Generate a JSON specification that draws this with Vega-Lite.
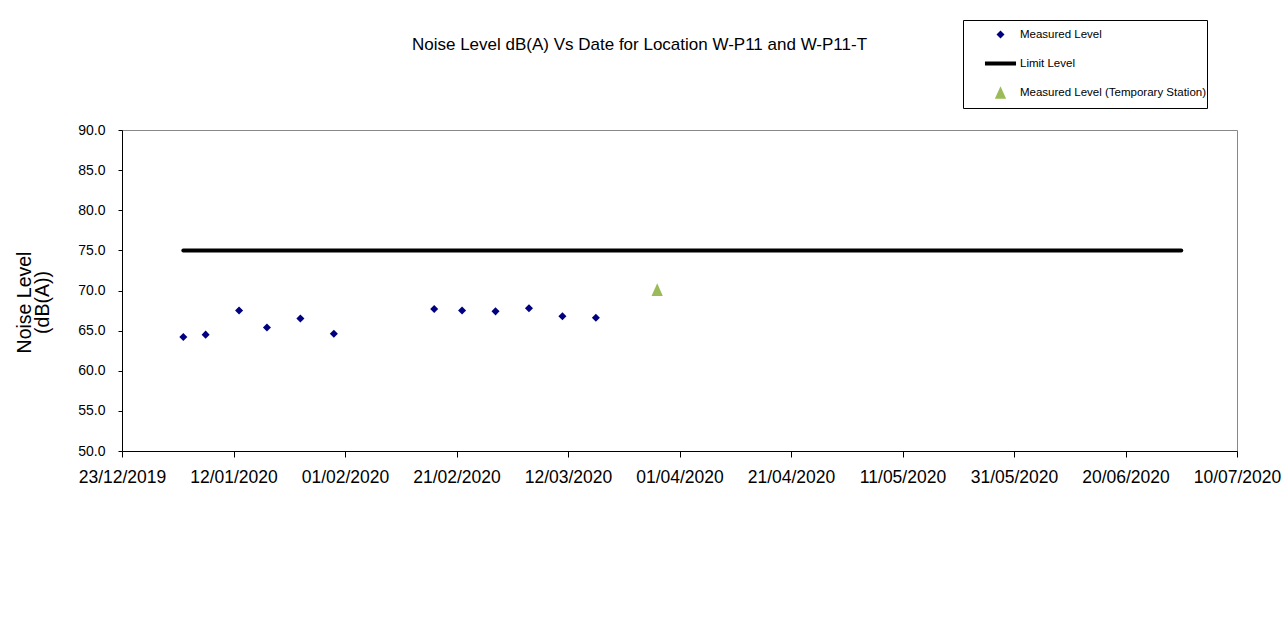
{
  "$schema": "https://vega.github.io/schema/vega-lite/v6.json",
  "width": 1115,
  "height": 321,
  "autosize": "none",
  "padding": {"left": 122, "top": 130, "right": 51, "bottom": 170},
  "background": "white",
  "config": {
    "font": "Liberation Sans",
    "view": {"stroke": "#888888", "strokeWidth": 1},
    "legend": {
      "orient": "none",
      "legendX": 841,
      "legendY": -110,
      "padding": 1,
      "symbolOffset": 23,
      "symbolSize": 529,
      "symbolStrokeWidth": 4,
      "rowPadding": 0,
      "gridAlign": "all",
      "labelFontSize": 11.5,
      "labelColor": "black",
      "labelLimit": 400,
      "labelOffset": 6,
      "strokeColor": "black",
      "fillColor": "white"
    }
  },
  "title": {
    "text": "Noise Level dB(A) Vs Date for Location W-P11 and W-P11-T",
    "fontSize": 17,
    "fontWeight": "normal",
    "font": "Liberation Sans",
    "color": "black",
    "anchor": "middle",
    "dx": -40,
    "offset": -47,
    "baseline": "alphabetic"
  },
  "data": {
    "values": [
      {"date": "2020-01-03", "level": 64.2, "series": "Measured Level"},
      {"date": "2020-01-07", "level": 64.5, "series": "Measured Level"},
      {"date": "2020-01-13", "level": 67.5, "series": "Measured Level"},
      {"date": "2020-01-18", "level": 65.4, "series": "Measured Level"},
      {"date": "2020-01-24", "level": 66.5, "series": "Measured Level"},
      {"date": "2020-01-30", "level": 64.6, "series": "Measured Level"},
      {"date": "2020-02-17", "level": 67.7, "series": "Measured Level"},
      {"date": "2020-02-22", "level": 67.5, "series": "Measured Level"},
      {"date": "2020-02-28", "level": 67.4, "series": "Measured Level"},
      {"date": "2020-03-05", "level": 67.8, "series": "Measured Level"},
      {"date": "2020-03-11", "level": 66.8, "series": "Measured Level"},
      {"date": "2020-03-17", "level": 66.6, "series": "Measured Level"},
      {"date": "2020-03-28", "level": 70.1, "series": "Measured Level (Temporary Station)"},
      {"date": "2020-01-03", "level": 75, "series": "Limit Level"},
      {"date": "2020-06-30", "level": 75, "series": "Limit Level"}
    ]
  },
  "encoding": {
    "x": {
      "field": "date",
      "type": "temporal",
      "scale": {
        "type": "utc",
        "domain": [
          {"year": 2019, "month": 12, "date": 23, "utc": true},
          {"year": 2020, "month": 7, "date": 10, "utc": true}
        ]
      },
      "axis": {
        "title": null,
        "values": [
          {"year": 2019, "month": 12, "date": 23, "utc": true},
          {"year": 2020, "month": 1, "date": 12, "utc": true},
          {"year": 2020, "month": 2, "date": 1, "utc": true},
          {"year": 2020, "month": 2, "date": 21, "utc": true},
          {"year": 2020, "month": 3, "date": 12, "utc": true},
          {"year": 2020, "month": 4, "date": 1, "utc": true},
          {"year": 2020, "month": 4, "date": 21, "utc": true},
          {"year": 2020, "month": 5, "date": 11, "utc": true},
          {"year": 2020, "month": 5, "date": 31, "utc": true},
          {"year": 2020, "month": 6, "date": 20, "utc": true},
          {"year": 2020, "month": 7, "date": 10, "utc": true}
        ],
        "format": "%d/%m/%Y",
        "labelFontSize": 17.5,
        "labelColor": "black",
        "labelFlush": false,
        "labelOverlap": false,
        "labelPadding": 11,
        "tickSize": 6,
        "tickColor": "black",
        "domainColor": "black",
        "grid": false
      }
    },
    "y": {
      "field": "level",
      "type": "quantitative",
      "scale": {"domain": [50, 90], "nice": false, "zero": false},
      "axis": {
        "title": ["Noise Level", "(dB(A))"],
        "titleFontSize": 19.5,
        "titleFontWeight": "normal",
        "titleColor": "black",
        "titleLineHeight": 18,
        "titlePadding": 25,
        "titleY": 172,
        "values": [50, 55, 60, 65, 70, 75, 80, 85, 90],
        "format": ".1f",
        "labelFontSize": 14,
        "labelColor": "black",
        "labelPadding": 13,
        "tickSize": 4,
        "tickColor": "black",
        "domainColor": "black",
        "grid": false
      }
    }
  },
  "layer": [
    {
      "transform": [{"filter": "datum.series === 'Limit Level'"}],
      "mark": {"type": "line", "color": "black", "strokeWidth": 4, "strokeCap": "round"}
    },
    {
      "transform": [{"filter": "datum.series !== 'Limit Level'"}],
      "mark": {"type": "point", "filled": true, "opacity": 1, "size": 529, "strokeWidth": 4},
      "encoding": {
        "color": {
          "field": "series", "type": "nominal", "title": null,
          "scale": {"domain": ["Measured Level", "Limit Level", "Measured Level (Temporary Station)"], "range": ["#000080", "#000000", "#9BBB59"]}
        },
        "stroke": {
          "field": "series", "type": "nominal", "title": null,
          "scale": {"domain": ["Measured Level", "Limit Level", "Measured Level (Temporary Station)"], "range": ["transparent", "#000000", "transparent"]}
        },
        "shape": {
          "field": "series", "type": "nominal", "title": null,
          "scale": {"domain": ["Measured Level", "Limit Level", "Measured Level (Temporary Station)"], "range": ["M-0.35,0L0,-0.35L0.35,0L0,0.35Z", "M-1.35,0L1.35,0", "M0,-0.55L0.49,0.55L-0.49,0.55Z"]}
        }
      }
    }
  ]
}
